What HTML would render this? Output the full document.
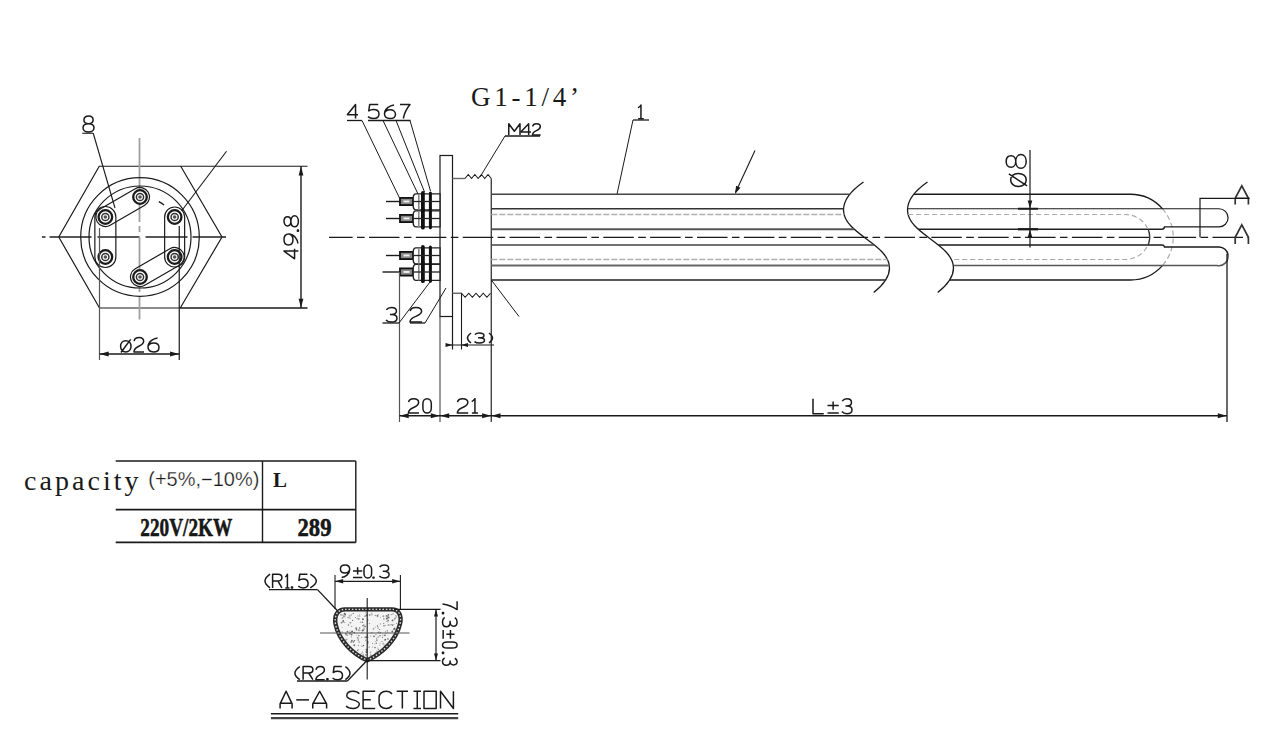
<!DOCTYPE html>
<html><head><meta charset="utf-8"><style>
html,body{margin:0;padding:0;background:#fff;width:1280px;height:729px;overflow:hidden}
svg{display:block}
</style></head><body>
<svg width="1280" height="729" viewBox="0 0 1280 729">
<rect width="1280" height="729" fill="#fff"/>
<polygon points="99.25,166.25 180.75,166.25 222,237 180.25,308 99.5,308 58.75,237" fill="none" stroke="#1a1a1a" stroke-width="1.2"/>
<line x1="42" y1="237" x2="226" y2="237" stroke="#222" stroke-width="1.3" stroke-dasharray="3.5 4 42 6 42 6 42 5 50"/>
<line x1="139.5" y1="138" x2="139.5" y2="319.5" stroke="#a0a0a0" stroke-width="1.8" stroke-dasharray="84 4 6 5 44 5 6 5 40"/>
<circle cx="140.0" cy="237.0" r="59.3" fill="none" stroke="#1a1a1a" stroke-width="1.2"/>
<circle cx="140.0" cy="237.0" r="51" fill="none" stroke="#1a1a1a" stroke-width="1.2"/>
<path d="M94.86,217.00 L94.86,257.00 A10.5,10.5 0 0 0 115.86,257.00 L115.86,217.00 A10.5,10.5 0 0 0 94.86,217.00 Z" fill="none" stroke="#1a1a1a" stroke-width="1.2"/>
<path d="M164.64,217.00 L164.64,257.00 A10,10 0 0 0 184.64,257.00 L184.64,217.00 A10,10 0 0 0 164.64,217.00 Z" fill="none" stroke="#1a1a1a" stroke-width="1.2"/>
<path d="M135.25,188.77 L100.61,208.77 A9.5,9.5 0 0 0 110.11,225.23 L144.75,205.23 A9.5,9.5 0 0 0 135.25,188.77 Z" fill="none" stroke="#1a1a1a" stroke-width="1.2"/>
<path d="M169.89,248.77 L135.25,268.77 A9.5,9.5 0 0 0 144.75,285.23 L179.39,265.23 A9.5,9.5 0 0 0 169.89,248.77 Z" fill="none" stroke="#1a1a1a" stroke-width="1.2"/>
<circle cx="140.00" cy="197.00" r="6.8" fill="#fff" stroke="#1a1a1a" stroke-width="2.3"/>
<circle cx="140.00" cy="197.00" r="3.6" fill="none" stroke="#333" stroke-width="1.5"/>
<circle cx="140.00" cy="197.00" r="1.8" fill="#555" stroke="none"/>
<circle cx="174.64" cy="217.00" r="6.8" fill="#fff" stroke="#1a1a1a" stroke-width="2.3"/>
<circle cx="174.64" cy="217.00" r="3.6" fill="none" stroke="#333" stroke-width="1.5"/>
<circle cx="174.64" cy="217.00" r="1.8" fill="#555" stroke="none"/>
<circle cx="174.64" cy="257.00" r="6.8" fill="#fff" stroke="#1a1a1a" stroke-width="2.3"/>
<circle cx="174.64" cy="257.00" r="3.6" fill="none" stroke="#333" stroke-width="1.5"/>
<circle cx="174.64" cy="257.00" r="1.8" fill="#555" stroke="none"/>
<circle cx="140.00" cy="277.00" r="6.8" fill="#fff" stroke="#1a1a1a" stroke-width="2.3"/>
<circle cx="140.00" cy="277.00" r="3.6" fill="none" stroke="#333" stroke-width="1.5"/>
<circle cx="140.00" cy="277.00" r="1.8" fill="#555" stroke="none"/>
<circle cx="105.36" cy="257.00" r="6.8" fill="#fff" stroke="#1a1a1a" stroke-width="2.3"/>
<circle cx="105.36" cy="257.00" r="3.6" fill="none" stroke="#333" stroke-width="1.5"/>
<circle cx="105.36" cy="257.00" r="1.8" fill="#555" stroke="none"/>
<circle cx="105.36" cy="217.00" r="6.8" fill="#fff" stroke="#1a1a1a" stroke-width="2.3"/>
<circle cx="105.36" cy="217.00" r="3.6" fill="none" stroke="#333" stroke-width="1.5"/>
<circle cx="105.36" cy="217.00" r="1.8" fill="#555" stroke="none"/>
<path d="M158.78,201.68 A40,40 0 0 1 164.07,205.05" fill="none" stroke="#1a1a1a" stroke-width="1.3"/>
<line x1="82.25" y1="133.25" x2="93.25" y2="133.25" stroke="#1a1a1a" stroke-width="1.1" />
<line x1="93.25" y1="133.25" x2="115" y2="208" stroke="#1a1a1a" stroke-width="1.1" />
<g transform="translate(83,132)" fill="none" stroke="#1a1a1a" stroke-width="1.5" stroke-linecap="butt" stroke-linejoin="round"><path vector-effect="non-scaling-stroke" transform="translate(0.00,0) scale(1.8333,1.7778) translate(0,-9)" d="M3,0 C1.5,0 0.5,0.9 0.5,2.2 C0.5,3.4 1.5,4.3 3,4.3 C4.5,4.3 5.5,3.4 5.5,2.2 C5.5,0.9 4.5,0 3,0 Z M3,4.3 C1.3,4.3 0,5.2 0,6.6 C0,8 1.3,9 3,9 C4.7,9 6,8 6,6.6 C6,5.2 4.7,4.3 3,4.3 Z"/></g>
<line x1="226.5" y1="151.25" x2="181.5" y2="211" stroke="#1a1a1a" stroke-width="1.1" />
<line x1="180.75" y1="166.25" x2="307.5" y2="166.25" stroke="#1a1a1a" stroke-width="1.2" />
<line x1="180.25" y1="308" x2="307.5" y2="308" stroke="#1a1a1a" stroke-width="1.4" />
<line x1="301" y1="166.25" x2="301" y2="308" stroke="#1a1a1a" stroke-width="1.4" />
<polygon points="301.00,166.50 303.40,175.50 298.60,175.50" fill="#1a1a1a"/>
<polygon points="301.00,307.80 298.60,298.80 303.40,298.80" fill="#1a1a1a"/>
<g transform="translate(298.4,258.7) rotate(-90)" fill="none" stroke="#1a1a1a" stroke-width="1.5" stroke-linecap="butt" stroke-linejoin="round"><path vector-effect="non-scaling-stroke" transform="translate(0.00,0) scale(1.6667,1.6000) translate(0,-9)" d="M4.6,9 V0 L0,6.4 V6.6 H6"/><path vector-effect="non-scaling-stroke" transform="translate(13.70,0) scale(1.8333,1.6000) translate(0,-9)" d="M0.8,8.7 C3,8.4 6,6.4 6,3 C6,1.2 4.8,0 3,0 C1.2,0 0,1.1 0,2.8 C0,4.5 1.2,5.6 3,5.6 C4.4,5.6 5.5,4.8 5.9,3.7"/><path vector-effect="non-scaling-stroke" transform="translate(23.78,0) scale(1.4400,1.6000) translate(0,-9)" d="M2.6,8.4 H3.4 V9 H2.6 Z"/><path vector-effect="non-scaling-stroke" transform="translate(31.90,0) scale(1.8333,1.6000) translate(0,-9)" d="M3,0 C1.5,0 0.5,0.9 0.5,2.2 C0.5,3.4 1.5,4.3 3,4.3 C4.5,4.3 5.5,3.4 5.5,2.2 C5.5,0.9 4.5,0 3,0 Z M3,4.3 C1.3,4.3 0,5.2 0,6.6 C0,8 1.3,9 3,9 C4.7,9 6,8 6,6.6 C6,5.2 4.7,4.3 3,4.3 Z"/></g>
<line x1="99.5" y1="228" x2="99.5" y2="360" stroke="#555" stroke-width="1.2" />
<line x1="179.25" y1="226" x2="179.25" y2="360" stroke="#1a1a1a" stroke-width="1.2" />
<line x1="99.5" y1="354" x2="179.25" y2="354" stroke="#1a1a1a" stroke-width="1.3" />
<polygon points="99.70,354.00 108.70,351.60 108.70,356.40" fill="#1a1a1a"/>
<polygon points="179.05,354.00 170.05,356.40 170.05,351.60" fill="#1a1a1a"/>
<g transform="translate(120.6,351.9)" fill="none" stroke="#1a1a1a" stroke-width="1.5" stroke-linecap="butt" stroke-linejoin="round"><path vector-effect="non-scaling-stroke" transform="translate(0.00,0) scale(1.7333,1.6000) translate(0,-9)" d="M3,2 C4.8,2 6,3.5 6,5.5 C6,7.5 4.8,9 3,9 C1.2,9 0,7.5 0,5.5 C0,3.5 1.2,2 3,2 Z M0.2,9.4 L5.8,1.2"/><path vector-effect="non-scaling-stroke" transform="translate(13.23,0) scale(1.6949,1.6000) translate(0,-9)" d="M0.2,2.2 C0.4,0.8 1.6,0 3,0 C4.6,0 5.8,0.9 5.8,2.4 C5.8,3.9 4.6,4.7 3,5.5 C1.2,6.4 0.1,7.4 0.1,9 H6"/><path vector-effect="non-scaling-stroke" transform="translate(27.40,0) scale(1.8333,1.6000) translate(0,-9)" d="M5.2,0.3 C3,0.6 0,2.6 0,6 C0,7.8 1.2,9 3,9 C4.8,9 6,7.9 6,6.2 C6,4.5 4.8,3.4 3,3.4 C1.6,3.4 0.5,4.2 0.1,5.3"/></g>
<g transform="translate(347.5,118.5)" fill="none" stroke="#1a1a1a" stroke-width="1.5" stroke-linecap="butt" stroke-linejoin="round"><path vector-effect="non-scaling-stroke" transform="translate(0.00,0) scale(1.7500,1.5556) translate(0,-9)" d="M4.6,9 V0 L0,6.4 V6.6 H6"/></g>
<g transform="translate(368,118.5)" fill="none" stroke="#1a1a1a" stroke-width="1.5" stroke-linecap="butt" stroke-linejoin="round"><path vector-effect="non-scaling-stroke" transform="translate(-0.19,0) scale(1.8644,1.5556) translate(0,-9)" d="M5.6,0 H1 L0.5,4.1 C1.2,3.5 2.1,3.2 3,3.2 C4.8,3.2 6,4.4 6,6.1 C6,7.9 4.7,9 3,9 C1.8,9 0.8,8.6 0.1,7.8"/><path vector-effect="non-scaling-stroke" transform="translate(16.50,0) scale(1.8333,1.5556) translate(0,-9)" d="M5.2,0.3 C3,0.6 0,2.6 0,6 C0,7.8 1.2,9 3,9 C4.8,9 6,7.9 6,6.2 C6,4.5 4.8,3.4 3,3.4 C1.6,3.4 0.5,4.2 0.1,5.3"/><path vector-effect="non-scaling-stroke" transform="translate(32.00,0) scale(1.6667,1.5556) translate(0,-9)" d="M0,0 H6 C4,2.5 2.6,5.5 2,9"/></g>
<line x1="347" y1="120.5" x2="362" y2="120.5" stroke="#1a1a1a" stroke-width="1.3" />
<line x1="368" y1="120.5" x2="410.5" y2="120.5" stroke="#1a1a1a" stroke-width="1.3" />
<line x1="362" y1="120.5" x2="399.5" y2="198" stroke="#1a1a1a" stroke-width="1.0" />
<line x1="383" y1="120.5" x2="418" y2="194" stroke="#1a1a1a" stroke-width="1.0" />
<line x1="396" y1="120.5" x2="424.5" y2="192" stroke="#1a1a1a" stroke-width="1.0" />
<line x1="410" y1="120.5" x2="430.5" y2="191" stroke="#1a1a1a" stroke-width="1.0" />
<text x="471" y="106" font-family="&quot;Liberation Serif&quot;, serif" font-size="27" fill="#1a1a1a" text-anchor="start" font-weight="normal" textLength="108" lengthAdjust="spacing" >G1-1/4’</text>
<rect x="440" y="155.5" width="12.5" height="161" fill="none" stroke="#1a1a1a" stroke-width="1.2"/>
<line x1="440" y1="316.5" x2="440" y2="422" stroke="#555" stroke-width="1.2" />
<line x1="452.5" y1="316.5" x2="452.5" y2="349.5" stroke="#1a1a1a" stroke-width="1.2" />
<line x1="452.5" y1="178.5" x2="465" y2="178.5" stroke="#666" stroke-width="1.4" />
<polyline points="465.00,178.50 468.29,174.50 471.57,178.50 474.86,174.50 478.15,178.50 481.44,174.50 484.73,178.50 488.01,174.50 491.30,178.50" fill="none" stroke="#1a1a1a" stroke-width="1.1"/>
<line x1="491.3" y1="178.5" x2="491.3" y2="422" stroke="#444" stroke-width="1.4" />
<line x1="452.5" y1="293.25" x2="462" y2="293.25" stroke="#666" stroke-width="1.4" />
<polyline points="461.50,293.25 465.12,297.25 468.75,293.25 472.38,297.25 476.00,293.25 479.62,297.25 483.25,293.25 486.88,297.25 490.50,293.25" fill="none" stroke="#1a1a1a" stroke-width="1.1"/>
<line x1="461.5" y1="293.25" x2="461.5" y2="349.5" stroke="#1a1a1a" stroke-width="1.1" />
<g transform="translate(508.75,135)" fill="none" stroke="#1a1a1a" stroke-width="1.5" stroke-linecap="butt" stroke-linejoin="round"><path vector-effect="non-scaling-stroke" transform="translate(0.00,0) scale(1.8750,1.2500) translate(0,-9)" d="M0,9 V0 L3,6 L6,0 V9"/><path vector-effect="non-scaling-stroke" transform="translate(12.25,0) scale(1.6667,1.2500) translate(0,-9)" d="M4.6,9 V0 L0,6.4 V6.6 H6"/><path vector-effect="non-scaling-stroke" transform="translate(23.61,0) scale(1.3729,1.2500) translate(0,-9)" d="M0.2,2.2 C0.4,0.8 1.6,0 3,0 C4.6,0 5.8,0.9 5.8,2.4 C5.8,3.9 4.6,4.7 3,5.5 C1.2,6.4 0.1,7.4 0.1,9 H6"/></g>
<line x1="505" y1="136" x2="540" y2="136" stroke="#1a1a1a" stroke-width="1.3" />
<line x1="505" y1="136" x2="480" y2="177" stroke="#1a1a1a" stroke-width="1.0" />
<g transform="translate(638,118.75)" fill="none" stroke="#1a1a1a" stroke-width="1.5" stroke-linecap="butt" stroke-linejoin="round"><path vector-effect="non-scaling-stroke" transform="translate(-1.97,0) scale(1.6429,1.5278) translate(0,-9)" d="M1.2,1.8 C2,1.4 2.6,0.8 3,0 V9 M1.3,9 H4.7"/></g>
<line x1="633" y1="120" x2="649" y2="120" stroke="#1a1a1a" stroke-width="1.3" />
<line x1="633" y1="120" x2="617" y2="194.25" stroke="#1a1a1a" stroke-width="1.0" />
<line x1="386" y1="201.5" x2="400" y2="201.5" stroke="#1a1a1a" stroke-width="1.4" />
<rect x="400" y="197.9" width="13" height="7.2" fill="#8a8a8a" stroke="#111" stroke-width="1.8"/>
<rect x="403.5" y="200.5" width="6" height="1.9" fill="#f0f0f0"/>
<path d="M416,193.9 H440 V209.9 H416 Q413.2,209.9 413.2,205.5 V198.3 Q413.2,193.9 416,193.9 Z" fill="#fff" stroke="#222" stroke-width="1.4"/>
<line x1="418.8" y1="193.9" x2="418.8" y2="209.9" stroke="#888" stroke-width="1.6" />
<line x1="422.9" y1="192.9" x2="422.9" y2="210.7" stroke="#111" stroke-width="3.8" stroke-linecap="round"/>
<line x1="430.4" y1="192.9" x2="430.4" y2="210.7" stroke="#111" stroke-width="3.0" stroke-linecap="round"/>
<line x1="413.5" y1="201.5" x2="440" y2="201.5" stroke="#222" stroke-width="1.3" />
<line x1="386" y1="218.5" x2="400" y2="218.5" stroke="#1a1a1a" stroke-width="1.4" />
<rect x="400" y="214.9" width="13" height="7.2" fill="#8a8a8a" stroke="#111" stroke-width="1.8"/>
<rect x="403.5" y="217.5" width="6" height="1.9" fill="#f0f0f0"/>
<path d="M416,210.9 H440 V226.9 H416 Q413.2,226.9 413.2,222.5 V215.3 Q413.2,210.9 416,210.9 Z" fill="#fff" stroke="#222" stroke-width="1.4"/>
<line x1="418.8" y1="210.9" x2="418.8" y2="226.9" stroke="#888" stroke-width="1.6" />
<line x1="422.9" y1="209.9" x2="422.9" y2="227.7" stroke="#111" stroke-width="3.8" stroke-linecap="round"/>
<line x1="430.4" y1="209.9" x2="430.4" y2="227.7" stroke="#111" stroke-width="3.0" stroke-linecap="round"/>
<line x1="413.5" y1="218.5" x2="440" y2="218.5" stroke="#222" stroke-width="1.3" />
<line x1="386" y1="255.5" x2="400" y2="255.5" stroke="#1a1a1a" stroke-width="1.4" />
<rect x="400" y="251.9" width="13" height="7.2" fill="#8a8a8a" stroke="#111" stroke-width="1.8"/>
<rect x="403.5" y="254.5" width="6" height="1.9" fill="#f0f0f0"/>
<path d="M416,247.9 H440 V263.9 H416 Q413.2,263.9 413.2,259.5 V252.3 Q413.2,247.9 416,247.9 Z" fill="#fff" stroke="#222" stroke-width="1.4"/>
<line x1="418.8" y1="247.9" x2="418.8" y2="263.9" stroke="#888" stroke-width="1.6" />
<line x1="422.9" y1="246.9" x2="422.9" y2="264.7" stroke="#111" stroke-width="3.8" stroke-linecap="round"/>
<line x1="430.4" y1="246.9" x2="430.4" y2="264.7" stroke="#111" stroke-width="3.0" stroke-linecap="round"/>
<line x1="413.5" y1="255.5" x2="440" y2="255.5" stroke="#222" stroke-width="1.3" />
<line x1="382.5" y1="272" x2="400" y2="272" stroke="#1a1a1a" stroke-width="1.4" />
<rect x="400" y="268.4" width="13" height="7.2" fill="#8a8a8a" stroke="#111" stroke-width="1.8"/>
<rect x="403.5" y="271" width="6" height="1.9" fill="#f0f0f0"/>
<path d="M416,264.4 H440 V280.4 H416 Q413.2,280.4 413.2,276 V268.8 Q413.2,264.4 416,264.4 Z" fill="#fff" stroke="#222" stroke-width="1.4"/>
<line x1="418.8" y1="264.4" x2="418.8" y2="280.4" stroke="#888" stroke-width="1.6" />
<line x1="422.9" y1="263.4" x2="422.9" y2="281.2" stroke="#111" stroke-width="3.8" stroke-linecap="round"/>
<line x1="430.4" y1="263.4" x2="430.4" y2="281.2" stroke="#111" stroke-width="3.0" stroke-linecap="round"/>
<line x1="413.5" y1="272" x2="440" y2="272" stroke="#222" stroke-width="1.3" />
<line x1="399.5" y1="272" x2="399.5" y2="422" stroke="#555" stroke-width="1.2" />
<path d="M863.5,182 C852,190 843.5,199 843.5,210 C843.5,234 889.5,244 889.5,268 C889.5,278 882,286 873.7,292.5" fill="none" stroke="#1a1a1a" stroke-width="1.3"/>
<path d="M927.5,182 C916,190 907.5,199 907.5,210 C907.5,234 953.5,244 953.5,268 C953.5,278 946,286 937.7,292.5" fill="none" stroke="#1a1a1a" stroke-width="1.3"/>
<line x1="491.3" y1="194.25" x2="849.68" y2="194.25" stroke="#444" stroke-width="1.4" />
<line x1="491.3" y1="208.75" x2="843.54" y2="208.75" stroke="#333" stroke-width="1.4" />
<line x1="491.3" y1="214.5" x2="844.06" y2="214.5" stroke="#b0b0b0" stroke-width="1.3" stroke-dasharray="6 2"/>
<line x1="491.3" y1="229.25" x2="854.17" y2="229.25" stroke="#555" stroke-width="1.9" />
<line x1="491.3" y1="245" x2="874.41" y2="245" stroke="#444" stroke-width="1.5" />
<line x1="491.3" y1="259.5" x2="887.47" y2="259.5" stroke="#b0b0b0" stroke-width="1.3" stroke-dasharray="6 2"/>
<line x1="491.3" y1="265.5" x2="889.33" y2="265.5" stroke="#666" stroke-width="1.8" />
<line x1="491.3" y1="280" x2="885.77" y2="280" stroke="#222" stroke-width="1.4" />
<line x1="329" y1="237.3" x2="1249" y2="237.3" stroke="#1a1a1a" stroke-width="1.2" stroke-dasharray="30.5 4.4 7.6 4.36" stroke-dashoffset="6.86"/>
<path d="M913.68,194.25 H1130 A42.9,42.9 0 0 1 1162.6,208.9" fill="none" stroke="#1a1a1a" stroke-width="1.3"/>
<path d="M1162.6,208.9 A42.9,42.9 0 0 1 1162.6,265.4" fill="none" stroke="#aaa" stroke-width="1.2" stroke-dasharray="5 3"/>
<path d="M1162.6,265.4 A42.9,42.9 0 0 1 1130,280 H949.77" fill="none" stroke="#1a1a1a" stroke-width="1.3"/>
<path d="M907.54,208.75 H1219 A8.9,8.9 0 0 1 1219,226.9 H1164" fill="none" stroke="#1a1a1a" stroke-width="1.2"/>
<path d="M918.17,229.25 H1162 Q1164,229.25 1164.5,226.9" fill="none" stroke="#222" stroke-width="1.7"/>
<path d="M938.41,245 H1162 Q1164,245 1164.5,246.9 H1219 A9.2,9.2 0 0 1 1228,255 " fill="none" stroke="#1a1a1a" stroke-width="1.5"/>
<path d="M1228,255 A9.2,9.2 0 0 1 1217,265.4 H953.33" fill="none" stroke="#555" stroke-width="1.5"/>
<path d="M908.06,214.5 H1125 A24.4,22.5 0 0 1 1125,259.5 H951.47" fill="none" stroke="#aaa" stroke-width="1.2" stroke-dasharray="5 3"/>
<path d="M1148.2,229.25 A24.4,22.5 0 0 1 1148.2,245" fill="none" stroke="#333" stroke-width="1.3"/>
<line x1="1227" y1="254" x2="1227" y2="422" stroke="#1a1a1a" stroke-width="1.3" />
<path d="M1249.4,198.3 H1200 V237.3" fill="none" stroke="#1a1a1a" stroke-width="1.2"/>
<path d="M1235.2,204.4 V198.3 L1241.8,185.8 L1248.3999999999999,198.3 V204.4" fill="none" stroke="#333" stroke-width="1.7" stroke-linejoin="miter"/>
<line x1="1235" y1="198.3" x2="1249.4" y2="198.3" stroke="#1a1a1a" stroke-width="1.3" />
<path d="M1235.2,244 V237.3 L1241.8,224.9 L1248.3999999999999,237.3 V244" fill="none" stroke="#333" stroke-width="1.7" stroke-linejoin="miter"/>
<line x1="1030" y1="150" x2="1030" y2="247.5" stroke="#1a1a1a" stroke-width="1.2" />
<polygon points="1030.00,208.60 1027.70,200.60 1032.30,200.60" fill="#1a1a1a"/>
<polygon points="1030.00,229.40 1032.30,237.40 1027.70,237.40" fill="#1a1a1a"/>
<line x1="1018" y1="208.75" x2="1038" y2="208.75" stroke="#1a1a1a" stroke-width="2.0" />
<line x1="1018" y1="229.25" x2="1038" y2="229.25" stroke="#1a1a1a" stroke-width="2.3" />
<g transform="translate(1026.2,186.4) rotate(-90)" fill="none" stroke="#1a1a1a" stroke-width="1.5" stroke-linecap="butt" stroke-linejoin="round"><path vector-effect="non-scaling-stroke" transform="translate(0.00,0) scale(2.1667,2.2222) translate(0,-9)" d="M3,2 C4.8,2 6,3.5 6,5.5 C6,7.5 4.8,9 3,9 C1.2,9 0,7.5 0,5.5 C0,3.5 1.2,2 3,2 Z M0.2,9.4 L5.8,1.2"/><path vector-effect="non-scaling-stroke" transform="translate(18.10,0) scale(2.2833,2.2222) translate(0,-9)" d="M3,0 C1.5,0 0.5,0.9 0.5,2.2 C0.5,3.4 1.5,4.3 3,4.3 C4.5,4.3 5.5,3.4 5.5,2.2 C5.5,0.9 4.5,0 3,0 Z M3,4.3 C1.3,4.3 0,5.2 0,6.6 C0,8 1.3,9 3,9 C4.7,9 6,8 6,6.6 C6,5.2 4.7,4.3 3,4.3 Z"/></g>
<line x1="755" y1="150.5" x2="735.5" y2="192.5" stroke="#1a1a1a" stroke-width="1.1" />
<polygon points="735.00,194.00 736.09,185.72 740.47,187.69" fill="#1a1a1a"/>
<line x1="491.3" y1="280" x2="519" y2="316.5" stroke="#1a1a1a" stroke-width="1.0" />
<g transform="translate(386,322)" fill="none" stroke="#1a1a1a" stroke-width="1.5" stroke-linecap="butt" stroke-linejoin="round"><path vector-effect="non-scaling-stroke" transform="translate(-0.19,0) scale(1.8644,1.6111) translate(0,-9)" d="M0.3,1.4 C0.9,0.5 1.9,0 3,0 C4.6,0 5.7,0.9 5.7,2.2 C5.7,3.5 4.6,4.3 3,4.3 H2.2 M3,4.3 C4.8,4.3 6,5.2 6,6.6 C6,8.1 4.7,9 3,9 C1.8,9 0.8,8.6 0.1,7.7"/></g>
<g transform="translate(410,322)" fill="none" stroke="#1a1a1a" stroke-width="1.5" stroke-linecap="butt" stroke-linejoin="round"><path vector-effect="non-scaling-stroke" transform="translate(-0.20,0) scale(2.0339,1.6111) translate(0,-9)" d="M0.2,2.2 C0.4,0.8 1.6,0 3,0 C4.6,0 5.8,0.9 5.8,2.4 C5.8,3.9 4.6,4.7 3,5.5 C1.2,6.4 0.1,7.4 0.1,9 H6"/></g>
<line x1="382.5" y1="323" x2="399" y2="323" stroke="#1a1a1a" stroke-width="1.3" />
<line x1="399" y1="323" x2="430" y2="282" stroke="#1a1a1a" stroke-width="1.0" />
<line x1="410" y1="323" x2="425" y2="323" stroke="#1a1a1a" stroke-width="1.3" />
<line x1="425" y1="323" x2="446" y2="288" stroke="#1a1a1a" stroke-width="1.0" />
<line x1="446" y1="345" x2="494" y2="345" stroke="#1a1a1a" stroke-width="1.1" />
<polygon points="452.50,345.00 445.50,347.00 445.50,343.00" fill="#1a1a1a"/>
<polygon points="461.00,345.00 468.00,343.00 468.00,347.00" fill="#1a1a1a"/>
<g transform="translate(467.5,343)" fill="none" stroke="#1a1a1a" stroke-width="1.5" stroke-linecap="butt" stroke-linejoin="round"><path vector-effect="non-scaling-stroke" transform="translate(-1.87,0) scale(1.1667,1.1111) translate(0,-9)" d="M4.6,0 C2.6,1.6 1.6,3 1.6,4.5 C1.6,6 2.6,7.4 4.6,9"/><path vector-effect="non-scaling-stroke" transform="translate(6.83,0) scale(1.6949,1.1111) translate(0,-9)" d="M0.3,1.4 C0.9,0.5 1.9,0 3,0 C4.6,0 5.7,0.9 5.7,2.2 C5.7,3.5 4.6,4.3 3,4.3 H2.2 M3,4.3 C4.8,4.3 6,5.2 6,6.6 C6,8.1 4.7,9 3,9 C1.8,9 0.8,8.6 0.1,7.7"/><path vector-effect="non-scaling-stroke" transform="translate(19.87,0) scale(1.1667,1.1111) translate(0,-9)" d="M1.4,0 C3.4,1.6 4.4,3 4.4,4.5 C4.4,6 3.4,7.4 1.4,9"/></g>
<line x1="399.5" y1="415.75" x2="1227" y2="415.75" stroke="#1a1a1a" stroke-width="1.5" />
<polygon points="399.70,415.75 408.70,413.35 408.70,418.15" fill="#1a1a1a"/>
<polygon points="439.80,415.75 430.80,418.15 430.80,413.35" fill="#1a1a1a"/>
<polygon points="440.20,415.75 449.20,413.35 449.20,418.15" fill="#1a1a1a"/>
<polygon points="491.10,415.75 482.10,418.15 482.10,413.35" fill="#1a1a1a"/>
<polygon points="491.50,415.75 500.50,413.35 500.50,418.15" fill="#1a1a1a"/>
<polygon points="1226.80,415.75 1217.80,418.15 1217.80,413.35" fill="#1a1a1a"/>
<g transform="translate(408.4,413.1)" fill="none" stroke="#1a1a1a" stroke-width="1.5" stroke-linecap="butt" stroke-linejoin="round"><path vector-effect="non-scaling-stroke" transform="translate(-0.18,0) scale(1.7966,1.6000) translate(0,-9)" d="M0.2,2.2 C0.4,0.8 1.6,0 3,0 C4.6,0 5.8,0.9 5.8,2.4 C5.8,3.9 4.6,4.7 3,5.5 C1.2,6.4 0.1,7.4 0.1,9 H6"/><path vector-effect="non-scaling-stroke" transform="translate(14.50,0) scale(1.4000,1.6000) translate(0,-9)" d="M3,0 C5,0 6,1.6 6,3 V6 C6,7.4 5,9 3,9 C1,9 0,7.4 0,6 V3 C0,1.6 1,0 3,0 Z"/></g>
<g transform="translate(457.3,413.1)" fill="none" stroke="#1a1a1a" stroke-width="1.5" stroke-linecap="butt" stroke-linejoin="round"><path vector-effect="non-scaling-stroke" transform="translate(-0.18,0) scale(1.8475,1.6000) translate(0,-9)" d="M0.2,2.2 C0.4,0.8 1.6,0 3,0 C4.6,0 5.8,0.9 5.8,2.4 C5.8,3.9 4.6,4.7 3,5.5 C1.2,6.4 0.1,7.4 0.1,9 H6"/><path vector-effect="non-scaling-stroke" transform="translate(12.24,0) scale(1.8000,1.6000) translate(0,-9)" d="M1.2,1.8 C2,1.4 2.6,0.8 3,0 V9 M1.3,9 H4.7"/></g>
<g transform="translate(813,413.75)" fill="none" stroke="#1a1a1a" stroke-width="1.5" stroke-linecap="butt" stroke-linejoin="round"><path vector-effect="non-scaling-stroke" transform="translate(0.00,0) scale(1.9196,1.6667) translate(0,-9)" d="M0,0 V9 H5.6"/><path vector-effect="non-scaling-stroke" transform="translate(13.38,0) scale(2.2500,1.6667) translate(0,-9)" d="M3,1.6 V6.6 M0.5,4.1 H5.5 M0.5,8.6 H5.5"/><path vector-effect="non-scaling-stroke" transform="translate(28.73,0) scale(1.7119,1.6667) translate(0,-9)" d="M0.3,1.4 C0.9,0.5 1.9,0 3,0 C4.6,0 5.7,0.9 5.7,2.2 C5.7,3.5 4.6,4.3 3,4.3 H2.2 M3,4.3 C4.8,4.3 6,5.2 6,6.6 C6,8.1 4.7,9 3,9 C1.8,9 0.8,8.6 0.1,7.7"/></g>
<line x1="115.7" y1="461" x2="355.8" y2="461" stroke="#1a1a1a" stroke-width="1.4" />
<line x1="115.7" y1="509.6" x2="355.8" y2="509.6" stroke="#1a1a1a" stroke-width="1.6" />
<line x1="115.7" y1="542.4" x2="355.8" y2="542.4" stroke="#1a1a1a" stroke-width="1.6" />
<line x1="262.5" y1="461" x2="262.5" y2="542.4" stroke="#1a1a1a" stroke-width="1.4" />
<line x1="355.8" y1="461" x2="355.8" y2="542.4" stroke="#1a1a1a" stroke-width="1.4" />
<text x="24" y="489.5" font-family="&quot;Liberation Serif&quot;, serif" font-size="28" fill="#1a1a1a" text-anchor="start" font-weight="normal" textLength="114.5" lengthAdjust="spacing" >capacity</text>
<text x="148.3" y="486.2" font-family="&quot;Liberation Sans&quot;, sans-serif" font-size="19.5" fill="#1a1a1a" text-anchor="start" font-weight="normal" textLength="111" lengthAdjust="spacingAndGlyphs" stroke="#fff" stroke-width="0.25" >(+5%,−10%)</text>
<text x="273" y="486.9" font-family="&quot;Liberation Serif&quot;, serif" font-size="22" fill="#1a1a1a" text-anchor="start" font-weight="bold" textLength="14" lengthAdjust="spacingAndGlyphs" >L</text>
<text x="140.3" y="535.5" font-family="&quot;Liberation Serif&quot;, serif" font-size="25" fill="#1a1a1a" text-anchor="start" font-weight="bold" textLength="92" lengthAdjust="spacingAndGlyphs" stroke="#000" stroke-width="0.5">220V/2KW</text>
<text x="297.5" y="535.5" font-family="&quot;Liberation Serif&quot;, serif" font-size="25" fill="#1a1a1a" text-anchor="start" font-weight="bold" textLength="34" lengthAdjust="spacingAndGlyphs" stroke="#000" stroke-width="0.5">289</text>
<g transform="translate(340.4,578)" fill="none" stroke="#1a1a1a" stroke-width="1.5" stroke-linecap="butt" stroke-linejoin="round"><path vector-effect="non-scaling-stroke" transform="translate(0.00,0) scale(1.5500,1.4444) translate(0,-9)" d="M0.8,8.7 C3,8.4 6,6.4 6,3 C6,1.2 4.8,0 3,0 C1.2,0 0,1.1 0,2.8 C0,4.5 1.2,5.6 3,5.6 C4.4,5.6 5.5,4.8 5.9,3.7"/><path vector-effect="non-scaling-stroke" transform="translate(11.67,0) scale(1.8600,1.4444) translate(0,-9)" d="M3,1.6 V6.6 M0.5,4.1 H5.5 M0.5,8.6 H5.5"/><path vector-effect="non-scaling-stroke" transform="translate(23.60,0) scale(1.2667,1.4444) translate(0,-9)" d="M3,0 C5,0 6,1.6 6,3 V6 C6,7.4 5,9 3,9 C1,9 0,7.4 0,6 V3 C0,1.6 1,0 3,0 Z"/><path vector-effect="non-scaling-stroke" transform="translate(29.20,0) scale(1.3000,1.4444) translate(0,-9)" d="M2.6,8.4 H3.4 V9 H2.6 Z"/><path vector-effect="non-scaling-stroke" transform="translate(38.73,0) scale(1.6610,1.4444) translate(0,-9)" d="M0.3,1.4 C0.9,0.5 1.9,0 3,0 C4.6,0 5.7,0.9 5.7,2.2 C5.7,3.5 4.6,4.3 3,4.3 H2.2 M3,4.3 C4.8,4.3 6,5.2 6,6.6 C6,8.1 4.7,9 3,9 C1.8,9 0.8,8.6 0.1,7.7"/></g>
<line x1="335" y1="581.3" x2="400.4" y2="581.3" stroke="#1a1a1a" stroke-width="1.3" />
<polygon points="335.20,581.30 343.20,579.10 343.20,583.50" fill="#1a1a1a"/>
<polygon points="400.20,581.30 392.20,583.50 392.20,579.10" fill="#1a1a1a"/>
<line x1="335" y1="575" x2="335" y2="609" stroke="#1a1a1a" stroke-width="1.1" />
<line x1="400.4" y1="575" x2="400.4" y2="609" stroke="#1a1a1a" stroke-width="1.1" />
<g transform="translate(265,587.9)" fill="none" stroke="#1a1a1a" stroke-width="1.5" stroke-linecap="butt" stroke-linejoin="round"><path vector-effect="non-scaling-stroke" transform="translate(-2.67,0) scale(1.6667,1.5222) translate(0,-9)" d="M4.6,0 C2.6,1.6 1.6,3 1.6,4.5 C1.6,6 2.6,7.4 4.6,9"/><path vector-effect="non-scaling-stroke" transform="translate(7.60,0) scale(1.5500,1.5222) translate(0,-9)" d="M0,9 V0 H3.6 C5.1,0 6,0.9 6,2.2 C6,3.5 5.1,4.4 3.6,4.4 H0 M3.4,4.4 L6,9"/><path vector-effect="non-scaling-stroke" transform="translate(18.73,0) scale(1.2286,1.5222) translate(0,-9)" d="M1.2,1.8 C2,1.4 2.6,0.8 3,0 V9 M1.3,9 H4.7"/><path vector-effect="non-scaling-stroke" transform="translate(22.89,0) scale(1.3700,1.5222) translate(0,-9)" d="M2.6,8.4 H3.4 V9 H2.6 Z"/><path vector-effect="non-scaling-stroke" transform="translate(33.13,0) scale(1.6610,1.5222) translate(0,-9)" d="M5.6,0 H1 L0.5,4.1 C1.2,3.5 2.1,3.2 3,3.2 C4.8,3.2 6,4.4 6,6.1 C6,7.9 4.7,9 3,9 C1.8,9 0.8,8.6 0.1,7.8"/><path vector-effect="non-scaling-stroke" transform="translate(42.50,0) scale(2.0000,1.5222) translate(0,-9)" d="M1.4,0 C3.4,1.6 4.4,3 4.4,4.5 C4.4,6 3.4,7.4 1.4,9"/></g>
<line x1="269" y1="589.6" x2="317.5" y2="589.6" stroke="#1a1a1a" stroke-width="1.3" />
<line x1="317.5" y1="589.6" x2="337.7" y2="611" stroke="#1a1a1a" stroke-width="1.3" />
<defs><clipPath id="shp"><path d="M345,609.4 H392 C399,609.4 402,616 400,624 C396,641 381,654 367.2,660.3 C353,654 339,641 335.5,624 C334,615 338,609.4 345,609.4 Z"/></clipPath></defs>
<path d="M345,609.4 H392 C399,609.4 402,616 400,624 C396,641 381,654 367.2,660.3 C353,654 339,641 335.5,624 C334,615 338,609.4 345,609.4 Z" fill="#f4f4f4" stroke="none"/>
<g clip-path="url(#shp)"><circle cx="358.8" cy="618.9" r="0.83" fill="#777"/><circle cx="387.6" cy="616.3" r="0.79" fill="#999"/><circle cx="342.2" cy="631.9" r="0.53" fill="#777"/><circle cx="372.0" cy="614.7" r="0.78" fill="#999"/><circle cx="376.6" cy="638.8" r="0.53" fill="#666"/><circle cx="342.9" cy="622.2" r="0.78" fill="#999"/><circle cx="356.8" cy="618.6" r="0.56" fill="#aaa"/><circle cx="372.5" cy="643.4" r="0.55" fill="#999"/><circle cx="361.6" cy="637.2" r="0.53" fill="#777"/><circle cx="375.9" cy="634.8" r="0.77" fill="#aaa"/><circle cx="367.0" cy="654.5" r="0.68" fill="#999"/><circle cx="386.1" cy="644.2" r="0.62" fill="#aaa"/><circle cx="370.5" cy="652.3" r="0.86" fill="#aaa"/><circle cx="375.3" cy="615.4" r="0.76" fill="#999"/><circle cx="383.9" cy="619.0" r="0.74" fill="#777"/><circle cx="395.8" cy="615.6" r="0.78" fill="#aaa"/><circle cx="359.7" cy="628.1" r="0.75" fill="#666"/><circle cx="344.0" cy="616.3" r="0.63" fill="#777"/><circle cx="343.5" cy="644.3" r="0.82" fill="#666"/><circle cx="356.5" cy="629.7" r="0.83" fill="#777"/><circle cx="394.6" cy="628.4" r="0.81" fill="#666"/><circle cx="343.4" cy="647.3" r="0.56" fill="#999"/><circle cx="363.1" cy="654.2" r="0.75" fill="#999"/><circle cx="366.1" cy="637.3" r="0.94" fill="#666"/><circle cx="390.1" cy="624.8" r="0.71" fill="#aaa"/><circle cx="379.6" cy="629.5" r="0.62" fill="#777"/><circle cx="350.2" cy="622.7" r="0.62" fill="#666"/><circle cx="388.2" cy="620.4" r="0.64" fill="#999"/><circle cx="364.3" cy="629.0" r="0.78" fill="#999"/><circle cx="380.0" cy="635.7" r="0.81" fill="#777"/><circle cx="366.5" cy="652.1" r="0.98" fill="#666"/><circle cx="363.1" cy="630.1" r="0.74" fill="#666"/><circle cx="343.6" cy="615.1" r="0.60" fill="#999"/><circle cx="346.4" cy="639.6" r="0.55" fill="#999"/><circle cx="371.1" cy="655.7" r="0.81" fill="#777"/><circle cx="390.7" cy="640.2" r="0.57" fill="#aaa"/><circle cx="395.4" cy="639.7" r="0.74" fill="#777"/><circle cx="389.2" cy="657.7" r="0.73" fill="#666"/><circle cx="358.1" cy="618.6" r="0.87" fill="#aaa"/><circle cx="367.8" cy="643.8" r="0.76" fill="#999"/><circle cx="395.2" cy="636.3" r="0.57" fill="#777"/><circle cx="384.0" cy="625.7" r="0.82" fill="#777"/><circle cx="380.4" cy="624.0" r="0.68" fill="#999"/><circle cx="360.6" cy="622.2" r="0.77" fill="#aaa"/><circle cx="376.9" cy="640.2" r="0.89" fill="#999"/><circle cx="386.8" cy="649.6" r="0.87" fill="#999"/><circle cx="351.6" cy="634.7" r="0.87" fill="#777"/><circle cx="385.8" cy="633.7" r="0.60" fill="#aaa"/><circle cx="365.9" cy="655.1" r="0.99" fill="#aaa"/><circle cx="344.7" cy="616.7" r="0.74" fill="#aaa"/><circle cx="351.9" cy="640.7" r="0.95" fill="#777"/><circle cx="367.8" cy="642.0" r="0.90" fill="#777"/><circle cx="388.4" cy="617.5" r="0.69" fill="#999"/><circle cx="367.7" cy="620.2" r="0.89" fill="#aaa"/><circle cx="345.0" cy="655.5" r="0.86" fill="#666"/><circle cx="363.3" cy="655.6" r="0.86" fill="#999"/><circle cx="397.6" cy="613.3" r="0.80" fill="#666"/><circle cx="386.8" cy="618.7" r="0.91" fill="#666"/><circle cx="378.1" cy="628.1" r="0.77" fill="#999"/><circle cx="341.2" cy="648.8" r="0.86" fill="#777"/><circle cx="370.5" cy="654.9" r="0.72" fill="#999"/><circle cx="387.9" cy="621.7" r="0.63" fill="#aaa"/><circle cx="369.1" cy="647.1" r="0.66" fill="#666"/><circle cx="388.4" cy="614.8" r="0.87" fill="#666"/><circle cx="378.4" cy="649.5" r="0.76" fill="#999"/><circle cx="370.8" cy="636.1" r="0.51" fill="#666"/><circle cx="385.0" cy="640.0" r="0.89" fill="#999"/><circle cx="350.0" cy="633.8" r="0.86" fill="#777"/><circle cx="358.9" cy="635.8" r="0.78" fill="#777"/><circle cx="391.2" cy="614.6" r="0.60" fill="#777"/><circle cx="384.8" cy="635.4" r="0.78" fill="#777"/><circle cx="365.7" cy="640.2" r="0.75" fill="#999"/><circle cx="380.2" cy="632.8" r="0.77" fill="#666"/><circle cx="369.4" cy="623.4" r="0.76" fill="#aaa"/><circle cx="393.5" cy="653.1" r="0.60" fill="#666"/><circle cx="348.0" cy="617.6" r="0.72" fill="#777"/><circle cx="378.9" cy="631.7" r="0.61" fill="#aaa"/><circle cx="385.5" cy="653.3" r="0.58" fill="#aaa"/><circle cx="348.3" cy="652.6" r="0.98" fill="#999"/><circle cx="383.3" cy="616.3" r="0.94" fill="#999"/><circle cx="397.4" cy="650.3" r="0.58" fill="#666"/><circle cx="397.7" cy="630.6" r="0.71" fill="#aaa"/><circle cx="358.5" cy="645.2" r="0.51" fill="#666"/><circle cx="365.5" cy="612.8" r="0.67" fill="#aaa"/><circle cx="369.7" cy="615.0" r="0.99" fill="#999"/><circle cx="396.4" cy="616.8" r="0.63" fill="#777"/><circle cx="392.5" cy="620.4" r="0.88" fill="#666"/><circle cx="389.3" cy="643.1" r="0.97" fill="#666"/><circle cx="348.7" cy="654.3" r="0.79" fill="#aaa"/><circle cx="345.2" cy="614.6" r="0.84" fill="#666"/><circle cx="391.9" cy="624.4" r="0.51" fill="#777"/><circle cx="386.5" cy="615.9" r="0.93" fill="#777"/><circle cx="355.3" cy="617.6" r="0.51" fill="#666"/><circle cx="393.7" cy="624.3" r="0.56" fill="#999"/><circle cx="394.4" cy="656.6" r="0.63" fill="#999"/><circle cx="351.7" cy="626.4" r="0.65" fill="#999"/><circle cx="356.8" cy="635.0" r="0.59" fill="#aaa"/><circle cx="386.6" cy="657.7" r="0.52" fill="#777"/><circle cx="382.5" cy="637.3" r="0.59" fill="#666"/><circle cx="354.2" cy="632.6" r="0.83" fill="#666"/><circle cx="378.1" cy="637.1" r="0.94" fill="#aaa"/><circle cx="379.9" cy="657.2" r="0.67" fill="#999"/><circle cx="363.5" cy="628.0" r="0.53" fill="#999"/><circle cx="340.8" cy="640.8" r="0.94" fill="#666"/><circle cx="349.5" cy="615.9" r="0.92" fill="#aaa"/><circle cx="374.7" cy="643.9" r="0.52" fill="#999"/><circle cx="349.1" cy="632.5" r="0.63" fill="#aaa"/><circle cx="396.4" cy="637.2" r="0.62" fill="#aaa"/><circle cx="352.6" cy="620.4" r="0.67" fill="#777"/><circle cx="367.5" cy="635.1" r="0.60" fill="#777"/><circle cx="345.3" cy="649.6" r="0.57" fill="#777"/><circle cx="362.9" cy="625.8" r="0.81" fill="#777"/><circle cx="374.0" cy="636.3" r="0.88" fill="#666"/><circle cx="384.3" cy="645.2" r="0.75" fill="#aaa"/><circle cx="382.0" cy="641.6" r="0.52" fill="#666"/><circle cx="382.6" cy="649.4" r="0.57" fill="#777"/><circle cx="387.9" cy="638.9" r="0.95" fill="#999"/><circle cx="344.9" cy="613.9" r="0.82" fill="#777"/><circle cx="361.8" cy="632.8" r="0.53" fill="#777"/><circle cx="376.3" cy="643.3" r="0.74" fill="#777"/><circle cx="366.5" cy="615.2" r="0.97" fill="#777"/><circle cx="378.2" cy="615.0" r="0.87" fill="#aaa"/><circle cx="386.9" cy="650.9" r="0.62" fill="#999"/><circle cx="353.4" cy="641.9" r="0.73" fill="#666"/><circle cx="344.5" cy="653.9" r="0.64" fill="#777"/><circle cx="375.8" cy="641.6" r="0.54" fill="#999"/><circle cx="359.2" cy="642.0" r="0.85" fill="#999"/><circle cx="340.7" cy="614.8" r="0.63" fill="#777"/><circle cx="380.1" cy="643.1" r="0.65" fill="#aaa"/><circle cx="367.0" cy="633.5" r="0.56" fill="#999"/><circle cx="358.1" cy="615.9" r="0.74" fill="#aaa"/><circle cx="366.6" cy="649.7" r="0.98" fill="#666"/><circle cx="397.7" cy="629.8" r="0.96" fill="#999"/><circle cx="344.3" cy="616.2" r="0.87" fill="#aaa"/><circle cx="395.3" cy="618.1" r="0.91" fill="#aaa"/><circle cx="391.4" cy="644.4" r="0.62" fill="#666"/><circle cx="362.9" cy="619.3" r="0.97" fill="#666"/><circle cx="363.5" cy="645.5" r="0.71" fill="#666"/><circle cx="358.3" cy="650.7" r="0.50" fill="#aaa"/><circle cx="388.7" cy="617.5" r="0.96" fill="#777"/><circle cx="392.3" cy="625.3" r="0.69" fill="#666"/><circle cx="362.6" cy="652.0" r="0.54" fill="#666"/><circle cx="383.8" cy="651.3" r="0.64" fill="#777"/><circle cx="388.4" cy="625.1" r="0.97" fill="#999"/><circle cx="396.3" cy="632.1" r="0.66" fill="#aaa"/><circle cx="385.5" cy="631.7" r="0.51" fill="#666"/><circle cx="393.0" cy="655.3" r="0.77" fill="#777"/><circle cx="342.9" cy="645.7" r="0.73" fill="#999"/><circle cx="377.4" cy="625.2" r="0.52" fill="#999"/><circle cx="349.9" cy="631.1" r="0.64" fill="#aaa"/><circle cx="382.9" cy="656.9" r="0.63" fill="#999"/><circle cx="357.4" cy="637.6" r="0.70" fill="#999"/><circle cx="377.3" cy="615.5" r="0.75" fill="#666"/><circle cx="371.9" cy="632.8" r="0.67" fill="#666"/><circle cx="364.8" cy="637.2" r="0.62" fill="#999"/><circle cx="359.8" cy="616.2" r="0.62" fill="#aaa"/><circle cx="386.9" cy="621.3" r="0.51" fill="#666"/><circle cx="362.2" cy="646.3" r="0.61" fill="#aaa"/><circle cx="359.6" cy="614.9" r="0.64" fill="#aaa"/><circle cx="347.3" cy="635.2" r="0.81" fill="#999"/><circle cx="345.4" cy="653.3" r="0.69" fill="#666"/><circle cx="365.0" cy="626.4" r="0.91" fill="#777"/><circle cx="347.4" cy="631.6" r="0.88" fill="#666"/><circle cx="396.2" cy="634.5" r="0.54" fill="#666"/><circle cx="396.4" cy="623.4" r="0.55" fill="#999"/><circle cx="348.8" cy="656.7" r="0.55" fill="#666"/><circle cx="344.9" cy="647.7" r="0.50" fill="#999"/><circle cx="353.5" cy="654.3" r="0.82" fill="#aaa"/><circle cx="395.8" cy="640.8" r="0.76" fill="#666"/><circle cx="380.5" cy="617.2" r="0.54" fill="#999"/><circle cx="362.5" cy="622.3" r="0.80" fill="#777"/><circle cx="371.2" cy="657.8" r="0.64" fill="#aaa"/><circle cx="377.4" cy="652.7" r="0.74" fill="#999"/><circle cx="371.7" cy="613.3" r="0.71" fill="#aaa"/><circle cx="343.2" cy="620.9" r="0.94" fill="#666"/><circle cx="344.7" cy="622.5" r="0.71" fill="#aaa"/><circle cx="353.2" cy="613.6" r="0.67" fill="#666"/><circle cx="361.0" cy="630.2" r="0.50" fill="#aaa"/><circle cx="382.9" cy="635.2" r="0.60" fill="#999"/><circle cx="358.1" cy="649.7" r="0.62" fill="#999"/><circle cx="355.4" cy="652.9" r="0.55" fill="#666"/><circle cx="375.4" cy="653.2" r="0.74" fill="#777"/><circle cx="395.0" cy="618.7" r="0.70" fill="#999"/><circle cx="341.4" cy="639.4" r="0.71" fill="#777"/><circle cx="350.7" cy="632.7" r="0.86" fill="#aaa"/><circle cx="382.5" cy="657.9" r="0.97" fill="#aaa"/><circle cx="351.1" cy="642.0" r="0.76" fill="#666"/><circle cx="341.8" cy="642.6" r="0.69" fill="#aaa"/><circle cx="397.1" cy="632.4" r="0.55" fill="#777"/><circle cx="356.2" cy="628.2" r="0.98" fill="#777"/><circle cx="372.5" cy="646.9" r="0.69" fill="#aaa"/><circle cx="387.7" cy="631.9" r="0.52" fill="#666"/><circle cx="351.4" cy="636.9" r="0.72" fill="#aaa"/><circle cx="361.1" cy="653.3" r="0.52" fill="#666"/><circle cx="354.4" cy="640.8" r="0.70" fill="#666"/><circle cx="342.0" cy="614.9" r="0.96" fill="#aaa"/><circle cx="351.3" cy="614.9" r="0.80" fill="#aaa"/><circle cx="355.8" cy="656.1" r="0.81" fill="#aaa"/><circle cx="383.3" cy="643.7" r="0.96" fill="#aaa"/><circle cx="340.2" cy="646.8" r="0.96" fill="#777"/><circle cx="341.4" cy="622.8" r="0.74" fill="#666"/><circle cx="395.3" cy="629.8" r="0.63" fill="#666"/><circle cx="387.3" cy="618.1" r="0.75" fill="#777"/><circle cx="386.5" cy="646.0" r="0.91" fill="#999"/><circle cx="375.2" cy="627.1" r="0.66" fill="#aaa"/><circle cx="385.5" cy="639.4" r="0.76" fill="#666"/><circle cx="383.7" cy="623.4" r="0.53" fill="#777"/><circle cx="367.9" cy="637.1" r="0.58" fill="#666"/><circle cx="391.2" cy="657.4" r="0.63" fill="#777"/><circle cx="352.1" cy="631.4" r="0.99" fill="#666"/><circle cx="350.0" cy="618.1" r="0.73" fill="#999"/><circle cx="383.4" cy="651.0" r="0.83" fill="#777"/><circle cx="385.2" cy="625.5" r="0.64" fill="#aaa"/><circle cx="361.6" cy="646.0" r="0.60" fill="#999"/><circle cx="350.8" cy="622.8" r="0.64" fill="#999"/><circle cx="358.9" cy="630.2" r="1.00" fill="#999"/><circle cx="377.7" cy="616.6" r="0.73" fill="#777"/><circle cx="345.9" cy="633.8" r="0.91" fill="#666"/><circle cx="393.0" cy="613.9" r="0.65" fill="#777"/><circle cx="342.9" cy="639.6" r="0.91" fill="#999"/><circle cx="394.0" cy="629.1" r="0.93" fill="#666"/><circle cx="375.0" cy="647.6" r="0.83" fill="#777"/><circle cx="346.1" cy="639.4" r="0.81" fill="#999"/><circle cx="342.2" cy="627.6" r="0.52" fill="#aaa"/><circle cx="342.2" cy="645.7" r="0.96" fill="#777"/><circle cx="387.5" cy="630.8" r="0.69" fill="#aaa"/><circle cx="344.5" cy="613.4" r="0.75" fill="#666"/><circle cx="343.7" cy="616.7" r="0.70" fill="#999"/><circle cx="377.1" cy="616.2" r="0.58" fill="#aaa"/><circle cx="363.8" cy="625.0" r="0.65" fill="#777"/><circle cx="358.1" cy="638.1" r="0.68" fill="#666"/><circle cx="341.1" cy="647.3" r="0.90" fill="#999"/><circle cx="362.7" cy="630.6" r="0.97" fill="#666"/><circle cx="392.3" cy="631.5" r="0.91" fill="#666"/><circle cx="373.5" cy="628.8" r="0.89" fill="#999"/><circle cx="340.9" cy="637.4" r="0.82" fill="#666"/><circle cx="345.2" cy="640.6" r="0.69" fill="#999"/><circle cx="348.5" cy="625.0" r="0.76" fill="#777"/><circle cx="346.3" cy="634.6" r="0.90" fill="#999"/><circle cx="357.5" cy="650.5" r="0.52" fill="#666"/><circle cx="358.2" cy="640.0" r="0.82" fill="#777"/><circle cx="392.4" cy="640.5" r="0.91" fill="#999"/><circle cx="377.1" cy="651.4" r="0.81" fill="#999"/><circle cx="388.1" cy="620.4" r="0.61" fill="#666"/><circle cx="394.4" cy="619.2" r="0.68" fill="#999"/><circle cx="354.3" cy="645.3" r="0.95" fill="#777"/><circle cx="391.3" cy="650.8" r="0.84" fill="#aaa"/><circle cx="346.8" cy="639.6" r="0.78" fill="#aaa"/><circle cx="377.6" cy="626.2" r="0.62" fill="#666"/><circle cx="378.2" cy="632.6" r="0.72" fill="#777"/><circle cx="340.2" cy="657.4" r="0.73" fill="#666"/><circle cx="384.3" cy="647.9" r="0.73" fill="#999"/><circle cx="387.0" cy="630.4" r="0.53" fill="#aaa"/><circle cx="365.0" cy="616.2" r="0.72" fill="#777"/><circle cx="342.4" cy="618.0" r="0.96" fill="#aaa"/><circle cx="385.1" cy="635.5" r="0.53" fill="#666"/><circle cx="377.9" cy="648.1" r="0.51" fill="#777"/><circle cx="397.8" cy="645.7" r="0.91" fill="#999"/><circle cx="347.6" cy="652.7" r="0.64" fill="#999"/><circle cx="379.8" cy="645.2" r="0.61" fill="#aaa"/></g>
<path d="M345,609.4 H392 C399,609.4 402,616 400,624 C396,641 381,654 367.2,660.3 C353,654 339,641 335.5,624 C334,615 338,609.4 345,609.4 Z" fill="none" stroke="#2a2a2a" stroke-width="4.4"/>
<path d="M345,609.4 H392 C399,609.4 402,616 400,624 C396,641 381,654 367.2,660.3 C353,654 339,641 335.5,624 C334,615 338,609.4 345,609.4 Z" fill="none" stroke="#d8d8d8" stroke-width="1.4" stroke-dasharray="1.6 1.8"/>
<line x1="367.2" y1="598" x2="367.2" y2="679.6" stroke="#1a1a1a" stroke-width="1.1" />
<line x1="320" y1="633" x2="409.6" y2="633" stroke="#555" stroke-width="1.1" />
<line x1="394" y1="609.4" x2="440.5" y2="609.4" stroke="#1a1a1a" stroke-width="1.3" />
<line x1="367" y1="660.6" x2="440.5" y2="660.6" stroke="#1a1a1a" stroke-width="1.3" />
<line x1="436" y1="609.4" x2="436" y2="660.6" stroke="#1a1a1a" stroke-width="1.2" />
<polygon points="436.00,609.60 438.00,616.60 434.00,616.60" fill="#1a1a1a"/>
<polygon points="436.00,660.40 434.00,653.40 438.00,653.40" fill="#1a1a1a"/>
<g transform="translate(442.5,601.2) rotate(90)" fill="none" stroke="#1a1a1a" stroke-width="1.5" stroke-linecap="butt" stroke-linejoin="round"><path vector-effect="non-scaling-stroke" transform="translate(0.00,0) scale(1.4000,1.6222) translate(0,-9)" d="M0,0 H6 C4,2.5 2.6,5.5 2,9"/><path vector-effect="non-scaling-stroke" transform="translate(7.62,0) scale(1.4600,1.6222) translate(0,-9)" d="M2.6,8.4 H3.4 V9 H2.6 Z"/><path vector-effect="non-scaling-stroke" transform="translate(16.04,0) scale(1.5932,1.6222) translate(0,-9)" d="M0.3,1.4 C0.9,0.5 1.9,0 3,0 C4.6,0 5.7,0.9 5.7,2.2 C5.7,3.5 4.6,4.3 3,4.3 H2.2 M3,4.3 C4.8,4.3 6,5.2 6,6.6 C6,8.1 4.7,9 3,9 C1.8,9 0.8,8.6 0.1,7.7"/><path vector-effect="non-scaling-stroke" transform="translate(27.81,0) scale(1.7800,1.6222) translate(0,-9)" d="M3,1.6 V6.6 M0.5,4.1 H5.5 M0.5,8.6 H5.5"/><path vector-effect="non-scaling-stroke" transform="translate(40.70,0) scale(1.0333,1.6222) translate(0,-9)" d="M3,0 C5,0 6,1.6 6,3 V6 C6,7.4 5,9 3,9 C1,9 0,7.4 0,6 V3 C0,1.6 1,0 3,0 Z"/><path vector-effect="non-scaling-stroke" transform="translate(47.22,0) scale(1.4600,1.6222) translate(0,-9)" d="M2.6,8.4 H3.4 V9 H2.6 Z"/><path vector-effect="non-scaling-stroke" transform="translate(56.68,0) scale(1.2373,1.6222) translate(0,-9)" d="M0.3,1.4 C0.9,0.5 1.9,0 3,0 C4.6,0 5.7,0.9 5.7,2.2 C5.7,3.5 4.6,4.3 3,4.3 H2.2 M3,4.3 C4.8,4.3 6,5.2 6,6.6 C6,8.1 4.7,9 3,9 C1.8,9 0.8,8.6 0.1,7.7"/></g>
<g transform="translate(294.9,679.7)" fill="none" stroke="#1a1a1a" stroke-width="1.5" stroke-linecap="butt" stroke-linejoin="round"><path vector-effect="non-scaling-stroke" transform="translate(-2.61,0) scale(1.6333,1.4556) translate(0,-9)" d="M4.6,0 C2.6,1.6 1.6,3 1.6,4.5 C1.6,6 2.6,7.4 4.6,9"/><path vector-effect="non-scaling-stroke" transform="translate(8.20,0) scale(1.6333,1.4556) translate(0,-9)" d="M0,9 V0 H3.6 C5.1,0 6,0.9 6,2.2 C6,3.5 5.1,4.4 3.6,4.4 H0 M3.4,4.4 L6,9"/><path vector-effect="non-scaling-stroke" transform="translate(20.85,0) scale(1.4915,1.4556) translate(0,-9)" d="M0.2,2.2 C0.4,0.8 1.6,0 3,0 C4.6,0 5.8,0.9 5.8,2.4 C5.8,3.9 4.6,4.7 3,5.5 C1.2,6.4 0.1,7.4 0.1,9 H6"/><path vector-effect="non-scaling-stroke" transform="translate(28.57,0) scale(1.3100,1.4556) translate(0,-9)" d="M2.6,8.4 H3.4 V9 H2.6 Z"/><path vector-effect="non-scaling-stroke" transform="translate(37.53,0) scale(1.6780,1.4556) translate(0,-9)" d="M5.6,0 H1 L0.5,4.1 C1.2,3.5 2.1,3.2 3,3.2 C4.8,3.2 6,4.4 6,6.1 C6,7.9 4.7,9 3,9 C1.8,9 0.8,8.6 0.1,7.8"/><path vector-effect="non-scaling-stroke" transform="translate(48.35,0) scale(1.5333,1.4556) translate(0,-9)" d="M1.4,0 C3.4,1.6 4.4,3 4.4,4.5 C4.4,6 3.4,7.4 1.4,9"/></g>
<line x1="297" y1="681" x2="347.4" y2="681" stroke="#1a1a1a" stroke-width="1.3" />
<line x1="347.4" y1="681" x2="367.2" y2="660.3" stroke="#1a1a1a" stroke-width="1.3" />
<g transform="translate(280.1,708.5)" fill="none" stroke="#1a1a1a" stroke-width="1.5" stroke-linecap="butt" stroke-linejoin="round"><path vector-effect="non-scaling-stroke" transform="translate(0.00,0) scale(2.0000,1.9167) translate(0,-9)" d="M0,9 V6.6 L3,0 L6,6.6 V9 M0,6.2 H6"/><path vector-effect="non-scaling-stroke" transform="translate(12.96,0) scale(3.1875,1.9167) translate(0,-9)" d="M1,4.5 H5"/><path vector-effect="non-scaling-stroke" transform="translate(32.65,0) scale(2.3083,1.9167) translate(0,-9)" d="M0,9 V6.6 L3,0 L6,6.6 V9 M0,6.2 H6"/><path vector-effect="non-scaling-stroke" transform="translate(66.00,0) scale(2.2759,1.9167) translate(0,-9)" d="M5.8,1.3 C5.2,0.4 4.2,0 3,0 C1.4,0 0.3,0.9 0.3,2.3 C0.3,4.9 5.8,4.1 5.8,6.7 C5.8,8.1 4.6,9 3,9 C1.7,9 0.7,8.6 0,7.7"/><path vector-effect="non-scaling-stroke" transform="translate(83.00,0) scale(2.0167,1.9167) translate(0,-9)" d="M6,0 H0 V9 H6 M0,4.5 H3.8"/><path vector-effect="non-scaling-stroke" transform="translate(99.00,0) scale(2.1500,1.9167) translate(0,-9)" d="M6,1.4 C5.4,0.5 4.4,0 3.3,0 C1.2,0 0,1.5 0,3.2 V5.8 C0,7.5 1.2,9 3.3,9 C4.4,9 5.4,8.5 6,7.6"/><path vector-effect="non-scaling-stroke" transform="translate(116.60,0) scale(1.8833,1.9167) translate(0,-9)" d="M0,0 H6 M3,0 V9"/><path vector-effect="non-scaling-stroke" transform="translate(129.65,0) scale(2.5000,1.9167) translate(0,-9)" d="M1.5,0 H4.5 M3,0 V9 M1.5,9 H4.5"/><path vector-effect="non-scaling-stroke" transform="translate(143.90,0) scale(2.0333,1.9167) translate(0,-9)" d="M0,0 H6 V9 H0 Z"/><path vector-effect="non-scaling-stroke" transform="translate(160.40,0) scale(2.1500,1.9167) translate(0,-9)" d="M0,9 V0 L6,9 V0"/></g>
<line x1="270.9" y1="713.8" x2="458.2" y2="713.8" stroke="#1a1a1a" stroke-width="1.6" />
<line x1="270.9" y1="718.1" x2="458.2" y2="718.1" stroke="#444" stroke-width="2.2" />
</svg>
</body></html>
